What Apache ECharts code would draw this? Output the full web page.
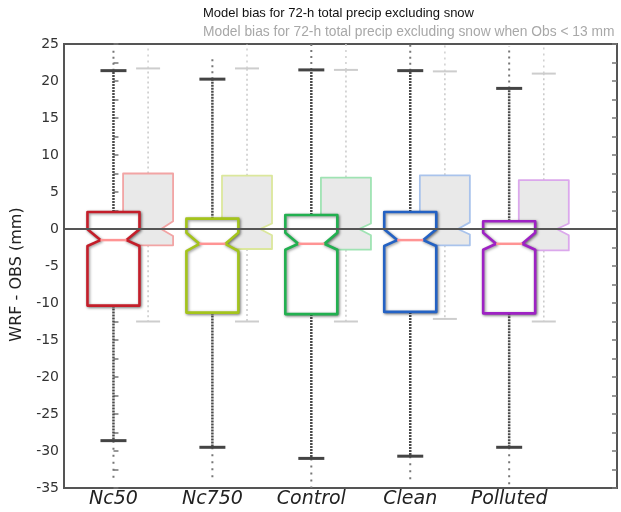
<!DOCTYPE html>
<html>
<head>
<meta charset="utf-8">
<script src="https://cdn.jsdelivr.net/npm/echarts@6/dist/echarts.min.js"></script>
<style>html,body{margin:0;padding:0;background:#fff}#c{width:621px;height:512px}</style>
</head>
<body>
<div id="c"></div>
<script>
const categories = ['Nc50', 'Nc750', 'Control', 'Clean', 'Polluted'];
const yTicks = { min: -35, max: 25, step: 5 };

// All cases
const allLow      = [-28.6, -29.5, -31.0, -30.7, -29.5];
const allQ1       = [-10.35, -11.3, -11.5, -11.2, -11.4];
const allNotchLo  = [-2.3, -3.0, -2.8, -2.3, -2.8];
const allMedian   = [-1.5, -2.0, -2.0, -1.5, -2.0];
const allNotchHi  = [-0.05, -0.5, -0.5, -0.05, -0.5];
const allQ3       = [2.3, 1.4, 1.9, 2.3, 1.05];
const allHigh     = [21.4, 20.25, 21.5, 21.4, 19.0];
const allOutLo    = [-34.0, -34.0, -35.0, -34.2, -34.6];
const allOutHi    = [24.6, 23.4, 25.0, 25.0, 24.7];

// Obs < 13 mm
const obsLow      = [-12.5, -12.5, -12.5, -12.15, -12.5];
const obsQ1       = [-2.2, -2.7, -2.8, -2.2, -2.9];
const obsNotchLo  = [-0.95, -0.85, -0.85, -0.75, -0.85];
const obsMedian   = [0, 0, 0, 0, 0];
const obsNotchHi  = [1.05, 0.75, 0.75, 0.9, 0.75];
const obsQ3       = [7.5, 7.2, 6.95, 7.25, 6.6];
const obsHigh     = [21.7, 21.7, 21.5, 21.3, 21.0];
const obsOutHi    = [24.5, 25.0, 25.0, 25.0, 25.0];

const mainColors = ['#c41e2a', '#a4c41c', '#22b050', '#2462c4', '#9e22c4'];
const lightColors = ['#f2a4a4', '#dbe79c', '#9fe3b3', '#a9c3ec', '#dba8ec'];

function buildData(isObs) {
  return categories.map((c, i) => isObs
    ? [i + 0.35, obsLow[i], obsQ1[i], obsNotchLo[i], obsMedian[i], obsNotchHi[i], obsQ3[i], obsHigh[i], obsLow[i], obsOutHi[i]]
    : [i, allLow[i], allQ1[i], allNotchLo[i], allMedian[i], allNotchHi[i], allQ3[i], allHigh[i], allOutLo[i], allOutHi[i]]);
}

function makeRender(isObs) {
  return function (params, api) {
    const i = params.dataIndex;
    const x = api.value(0);
    const P = v => api.coord([x, v]);
    const cx = P(0)[0];
    const yLow = P(api.value(1))[1], yQ1 = P(api.value(2))[1], yNLo = P(api.value(3))[1];
    const yMed = P(api.value(4))[1], yNHi = P(api.value(5))[1], yQ3 = P(api.value(6))[1];
    const yHigh = P(api.value(7))[1], yOLo = P(api.value(8))[1], yOHi = P(api.value(9))[1];
    const hw = isObs ? 25 : 26;
    const ind = isObs ? 12 : 13;
    const capHw = isObs ? 12 : 13;
    const L = cx - hw, R = cx + hw;
    const wColor = isObs ? '#c9c9c9' : '#4a4a4a';
    const wWidth = isObs ? 1.5 : 2.5;
    const wDash = isObs ? [2, 3] : [2, 1];
    const ch = [];
    const seg = (y1, y2, dash, w, col) => ({
      type: 'line', shape: { x1: cx, y1: y1, x2: cx, y2: y2 },
      style: { stroke: col, lineWidth: w, lineDash: dash }
    });
    if (yOHi < yHigh) ch.push(seg(yHigh, yOHi, [2, 4], isObs ? 1.5 : 2, isObs ? '#cfcfcf' : '#777'));
    if (yOLo > yLow) ch.push(seg(yLow, yOLo, [2, 5], isObs ? 1.5 : 2, isObs ? '#cfcfcf' : '#777'));
    ch.push(seg(yQ3, yHigh, wDash, wWidth, wColor));
    ch.push(seg(yQ1, yLow, wDash, wWidth, wColor));
    ch.push({ type: 'line', shape: { x1: cx - capHw, y1: yHigh, x2: cx + capHw, y2: yHigh },
      style: { stroke: isObs ? '#cdcdcd' : '#444', lineWidth: isObs ? 2 : 3 } });
    ch.push({ type: 'line', shape: { x1: cx - capHw, y1: yLow, x2: cx + capHw, y2: yLow },
      style: { stroke: isObs ? '#cdcdcd' : '#444', lineWidth: isObs ? 2 : 3 } });
    const pts = [[L, yQ3], [R, yQ3], [R, yNHi], [R - ind, yMed], [R, yNLo], [R, yQ1],
                 [L, yQ1], [L, yNLo], [L + ind, yMed], [L, yNHi]];
    ch.push({
      type: 'polygon', shape: { points: pts },
      style: isObs
        ? { fill: '#e9e9e9', stroke: lightColors[i], lineWidth: 1.8, lineJoin: 'round' }
        : { fill: '#fff', stroke: mainColors[i], lineWidth: 2.6, lineJoin: 'round',
            shadowBlur: 3, shadowColor: 'rgba(0,0,0,0.45)', shadowOffsetX: 1, shadowOffsetY: 1 }
    });
    ch.push({ type: 'line', shape: { x1: L + ind, y1: yMed, x2: R - ind, y2: yMed },
      style: { stroke: isObs ? '#f5b8b8' : '#ff9494', lineWidth: isObs ? 2 : 2.5 } });
    return { type: 'group', children: ch };
  };
}

const chart = echarts.init(document.getElementById('c'), null, { renderer: 'canvas' });
chart.setOption({
  animation: false,
  backgroundColor: '#fff',
  title: [
    { text: 'Model bias for 72-h total precip excluding snow', left: 198, top: 2,
      textStyle: { fontFamily: 'Liberation Sans', fontSize: 13, fontWeight: 'normal', color: '#111' } },
    { text: 'Model bias for 72-h total precip excluding snow when Obs < 13 mm', left: 198, top: 20,
      textStyle: { fontFamily: 'Liberation Sans', fontSize: 13.8, fontWeight: 'normal', color: '#a8a8a8' } }
  ],
  grid: { left: 64, right: 4, top: 44, bottom: 24, show: true, borderColor: '#555', borderWidth: 2, backgroundColor: 'transparent' },
  xAxis: {
    type: 'value', min: -0.5, max: 5.09, interval: 0.5,
    axisLine: { show: false }, axisTick: { show: false }, splitLine: { show: false },
    axisLabel: {
      margin: 2, fontFamily: 'DejaVu Sans', fontStyle: 'italic', fontSize: 19, color: '#222',
      showMinLabel: true, showMaxLabel: true,
      formatter: v => (Math.abs(v - Math.round(v)) < 1e-6 && categories[Math.round(v)]) ? categories[Math.round(v)] : ''
    }
  },
  yAxis: [
    {
      type: 'value', min: yTicks.min, max: yTicks.max, interval: yTicks.step,
      name: 'WRF - OBS (mm)', nameLocation: 'middle', nameGap: 38,
      nameTextStyle: { fontFamily: 'DejaVu Sans', fontSize: 16, color: '#222', padding: [0, 17, 0, 0] },
      axisLine: { show: false },
      axisTick: { show: true, inside: true, length: 5, lineStyle: { color: '#777', width: 1.5 } },
      minorTick: { show: true, splitNumber: 2, length: 5, lineStyle: { color: '#777', width: 1.5 } },
      splitLine: { show: false },
      axisLabel: { margin: 5, fontFamily: 'DejaVu Sans', fontSize: 14, color: '#333' }
    },
    {
      type: 'value', position: 'right', min: yTicks.min, max: yTicks.max, interval: yTicks.step,
      axisLine: { show: false },
      axisTick: { show: true, inside: true, length: 5, lineStyle: { color: '#777', width: 1.5 } },
      minorTick: { show: true, splitNumber: 2, length: 5, lineStyle: { color: '#777', width: 1.5 } },
      splitLine: { show: false }, axisLabel: { show: false }
    }
  ],
  series: [
    {
      type: 'line', data: [], z: 1, silent: true,
      markLine: { silent: true, symbol: 'none', label: { show: false },
        lineStyle: { color: '#555', width: 2, type: 'solid' }, data: [{ yAxis: 0 }] }
    },
    { type: 'custom', z: 2, renderItem: makeRender(true), data: buildData(true), encode: { x: 0, y: [1, 9] } },
    { type: 'custom', z: 3, renderItem: makeRender(false), data: buildData(false), encode: { x: 0, y: [1, 9] } }
  ]
});
</script>
</body>
</html>
